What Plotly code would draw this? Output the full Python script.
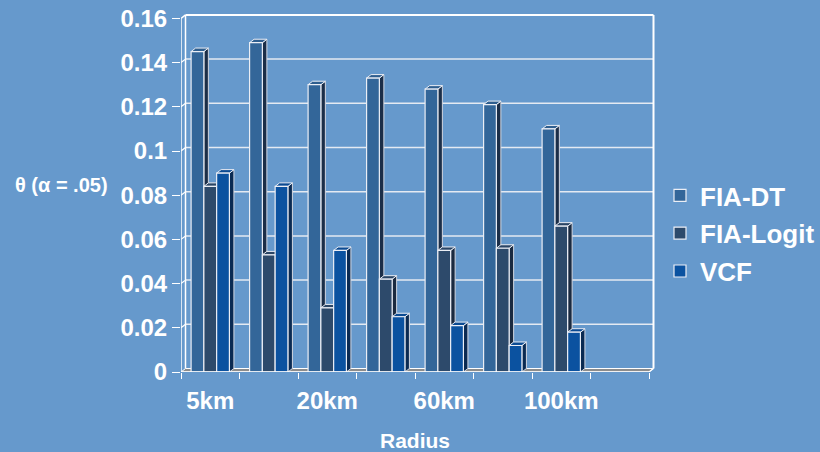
import plotly.graph_objects as go

# ---- data -------------------------------------------------------------
SERIES_NAMES = ["FIA-DT", "FIA-Logit", "VCF"]
FIA_DT = [0.145, 0.149, 0.130, 0.133, 0.128, 0.121, 0.110]
FIA_LOGIT = [0.084, 0.053, 0.029, 0.042, 0.055, 0.056, 0.066]
VCF = [0.090, 0.084, 0.055, 0.025, 0.021, 0.012, 0.018]
RADIUS_LABELS = ["5km", "20km", "60km", "100km"]
LABEL_SLOTS = [0, 2, 4, 6]
N_SLOTS = 8
Y_TICKS = [0, 0.02, 0.04, 0.06, 0.08, 0.1, 0.12, 0.14, 0.16]
Y_TICK_TEXT = ["0", "0.02", "0.04", "0.06", "0.08", "0.1", "0.12", "0.14", "0.16"]

# ---- style ------------------------------------------------------------
BG = "#6699CC"
FRONT = ["#336699", "#2D4A6B", "#0B52A0"]
TOP = ["#2E5E8F", "#2A4565", "#0A4A92"]
SIDE = ["#1B2E48", "#1A2A40", "#0A2A52"]
EDGE = "rgba(235,238,245,1)"
GRID = "#E4EAF2"
FONT = "Liberation Sans, Arial, sans-serif"

W, H = 820, 452
M_L, M_B = 181, 80
PX_PER_SLOT = 58.5
PX_PER_UNIT = 2210.0
PLOT_W = W - M_L
PLOT_H = H - M_B

BAR_GAP = 0.345
BAR_W = (1 - BAR_GAP) / 3
DX = 0.077      # depth offset, x units
DY = 0.00158    # depth offset, y units
Y_MAX = 0.16
X_RANGE = [-0.5, -0.5 + PLOT_W / PX_PER_SLOT]
Y_RANGE = [0, PLOT_H / PX_PER_UNIT]

series = [FIA_DT, FIA_LOGIT, VCF]
slot_edges = [i - 0.5 for i in range(N_SLOTS + 1)]

fig = go.Figure()

shapes = []


def poly(points, fill, line_color=EDGE, width=1, layer="below"):
    path = "M " + " L ".join(f"{x},{y}" for x, y in points) + " Z"
    return dict(type="path", path=path, xref="x", yref="y", fillcolor=fill,
                line=dict(color=line_color, width=width), layer=layer)


def seg(x0, y0, x1, y1, color="white", width=1.5, layer="below"):
    return dict(type="line", x0=x0, y0=y0, x1=x1, y1=y1, xref="x", yref="y",
                line=dict(color=color, width=width), layer=layer)


x_lo, x_hi = slot_edges[0], slot_edges[-1]

# back wall gridlines
for v in Y_TICKS[1:-1]:
    shapes.append(seg(x_lo + DX, v + DY, x_hi + DX, v + DY, GRID, 1.5))
    shapes.append(seg(x_lo, v, x_lo + DX, v + DY, "white", 1.2))
# back wall frame
shapes.append(seg(x_lo + DX, Y_MAX + DY, x_hi + DX, Y_MAX + DY, "white", 2))
shapes.append(seg(x_hi + DX, DY, x_hi + DX, Y_MAX + DY, "white", 2))
shapes.append(seg(x_lo + DX, DY, x_lo + DX, Y_MAX + DY, "white", 1.5))
shapes.append(seg(x_lo, Y_MAX, x_lo + DX, Y_MAX + DY, "white", 1.5))
# floor
shapes.append(poly([(x_lo, 0), (x_hi, 0), (x_hi + DX, DY), (x_lo + DX, DY)],
                   "#8C8C8C", "white", 1))

# side and top faces of each bar, left to right
for i in range(len(FIA_DT)):
    for j, vals in enumerate(series):
        v = vals[i]
        left = i - 1.5 * BAR_W + j * BAR_W
        right = left + BAR_W
        shapes.append(poly([(right, 0), (right + DX, DY), (right + DX, v + DY), (right, v)],
                           SIDE[j], "rgba(210,215,225,1)", 1))
        shapes.append(poly([(left, v), (left + DX, v + DY), (right + DX, v + DY), (right, v)],
                           TOP[j], EDGE, 1))

# front axis lines
shapes.append(seg(x_lo, 0, x_lo, Y_MAX, "white", 1.5, "above"))
shapes.append(seg(x_lo, 0, x_hi, 0, "white", 1.5, "above"))
shapes.append(seg(x_hi, 0, x_hi + DX, DY, "white", 1.2, "above"))

# front faces
for j, (name, vals) in enumerate(zip(SERIES_NAMES, series)):
    fig.add_trace(go.Bar(
        name=name,
        x=list(range(len(vals))),
        y=vals,
        width=BAR_W,
        offset=-1.5 * BAR_W + j * BAR_W,
        marker=dict(color=FRONT[j], line=dict(color=EDGE, width=1.2)),
        legendgroup=name,
        hoverinfo="skip",
    ))


def px_x(px):
    return (px - M_L) / PLOT_W


def px_y(py):
    return (PLOT_H - py) / PLOT_H


fig.update_layout(
    width=W, height=H, autosize=False,
    margin=dict(l=M_L, r=0, t=0, b=M_B, pad=0),
    paper_bgcolor=BG, plot_bgcolor=BG,
    barmode="overlay",
    shapes=shapes,
    font=dict(family=FONT, color="white"),
    showlegend=True,
    legend=dict(
        x=px_x(660), y=px_y(172), xanchor="left", yanchor="top",
        font=dict(size=26, color="white", family=FONT, weight="bold"),
        bgcolor="rgba(0,0,0,0)", traceorder="grouped", tracegroupgap=1,
        itemwidth=30,
    ),
    xaxis=dict(
        range=X_RANGE, showgrid=False, zeroline=False, showline=False,
        tickvals=LABEL_SLOTS, ticktext=RADIUS_LABELS, ticks="",
        tickfont=dict(size=24, color="white", family=FONT, weight="bold"),
        ticklabelstandoff=12,
        minor=dict(tickvals=slot_edges, ticks="outside", ticklen=6,
                   tickcolor="white", tickwidth=1.2, showgrid=False),
    ),
    yaxis=dict(
        range=Y_RANGE, showgrid=False, zeroline=False, showline=False,
        tickvals=Y_TICKS, ticktext=Y_TICK_TEXT,
        ticks="outside", ticklen=8, tickcolor="white", tickwidth=1.2,
        tickfont=dict(size=24, color="white", family=FONT, weight="bold"),
    ),
    annotations=[
        dict(text="θ (α = .05)", xref="paper", yref="paper", x=px_x(61), y=px_y(185),
             xanchor="center", yanchor="middle", showarrow=False,
             font=dict(size=20, color="white", family=FONT, weight="bold")),
        dict(text="Radius", xref="paper", yref="paper", x=px_x(415), y=px_y(440),
             xanchor="center", yanchor="middle", showarrow=False,
             font=dict(size=21, color="white", family=FONT, weight="bold")),
    ],
)

fig.write_html("out.html")
